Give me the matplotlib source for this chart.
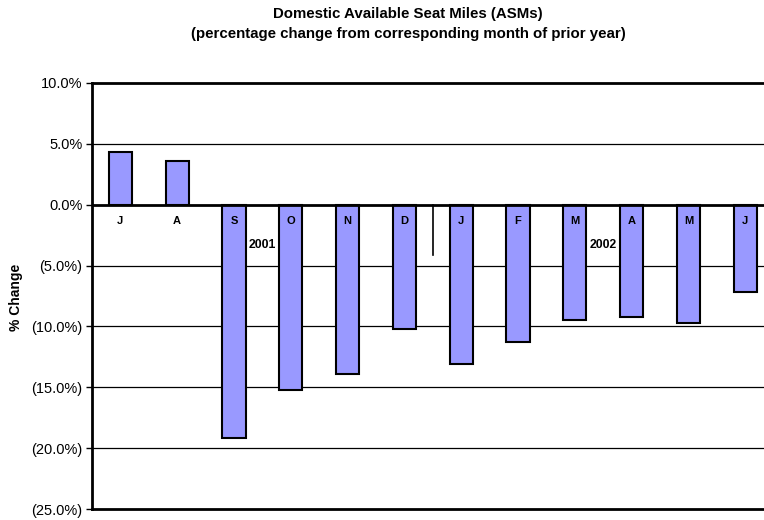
import matplotlib
matplotlib.use("Agg")
import matplotlib.pyplot as plt
from matplotlib.ticker import FuncFormatter

plt.rcParams['font.family'] = ['Liberation Sans', 'DejaVu Sans']

months = ["J", "A", "S", "O", "N", "D", "J", "F", "M", "A", "M", "J"]
values = [4.3, 3.6, -19.2, -15.2, -13.9, -10.2, -13.1, -11.3, -9.5, -9.2, -9.7, -7.2]
year_labels = ["2001", "2002"]
year_positions = [2.5, 8.5]
yticks = [10, 5, 0, -5, -10, -15, -20, -25]

fig = plt.figure(figsize=(7.64, 5.2), dpi=100)
ax = fig.add_axes([92/764, 1 - 509/520, 1 - 92/764, (509 - 83)/520])

x = list(range(len(values)))
ax.bar(x, values, width=0.41, color="#9999FF", edgecolor="black", linewidth=1.5, zorder=3)

ax.set_xlim(-0.5, 11.33)
ax.set_ylim(-25, 10)
ax.set_yticks(yticks)

def fmt(v, pos):
    if v < 0:
        return "({:.1f}%)".format(-v)
    return "{:.1f}%".format(v)

ax.yaxis.set_major_formatter(FuncFormatter(fmt))
ax.tick_params(axis='y', direction='out', length=4, width=1, labelsize=10.5, pad=3, colors='black')
ax.tick_params(axis='x', bottom=False, labelbottom=False)

for t in [5, -5, -10, -15, -20]:
    ax.axhline(t, color='black', linewidth=0.9, zorder=1)
ax.axhline(0, color='black', linewidth=2.0, zorder=4)

for s in ['top', 'bottom', 'left']:
    ax.spines[s].set_linewidth(2.0)
ax.spines['right'].set_visible(False)

for xi, m in zip(x, months):
    ax.text(xi, -1.37, m, ha='center', va='center', fontsize=8, fontweight='bold', zorder=5)

for xp, yl in zip(year_positions, year_labels):
    ax.text(xp, -3.3, yl, ha='center', va='center', fontsize=8.8, fontweight='bold', zorder=5)

# separator between years
ax.plot([5.5, 5.5], [0, -4.15], color='black', linewidth=1.2, zorder=4)

fig.text(16/764, 1 - 297/520, "% Change", rotation=90, ha='center', va='center', fontsize=10, fontweight='bold')

fig.text(408/764, 1 - 14/520, "Domestic Available Seat Miles (ASMs)", ha='center', va='center', fontsize=10.8, fontweight='bold')
fig.text(408/764, 1 - 34/520, "(percentage change from corresponding month of prior year)", ha='center', va='center', fontsize=10.8, fontweight='bold')

fig.savefig("out.png", dpi=100)
